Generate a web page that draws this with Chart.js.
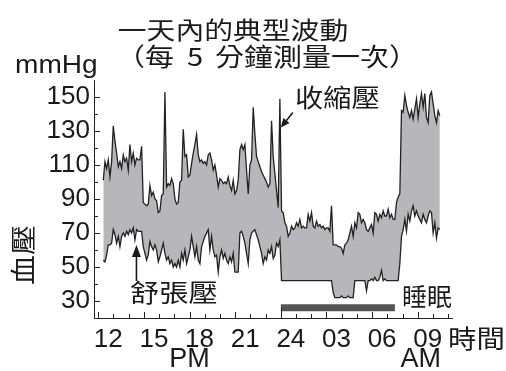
<!DOCTYPE html>
<html>
<head>
<meta charset="utf-8">
<script src="https://cdn.jsdelivr.net/npm/chart.js@4.4.1/dist/chart.umd.min.js"></script>
<style>
    html, body { margin: 0; padding: 0; background: #fff; }
    #wrap { width: 506px; height: 371px; }
</style>
</head>
<body>
<div id="wrap"><canvas id="bp" width="506" height="371"></canvas></div>
<script>
//readings, one every ~6.5 min starting 12:20
var START_HOUR = 12.33;
var STEP_MIN = 6.57;

var systolic = [
    101, 112, 108, 113, 103, 112, 133, 124, 117, 109,
    112, 108, 116, 112, 114, 107, 122, 112, 117, 110,
    114, 113, 113, 121, 88, 87, 86, 87, 98, 92,
    94, 90, 89, 82, 83, 92, 93, 153, 97, 99,
    98, 102, 99, 90, 87, 88, 100, 101, 131, 115,
    116, 103, 104, 111, 117, 122, 128, 116, 112, 113,
    111, 112, 110, 116, 117, 113, 107, 110, 104, 97,
    102, 101, 99, 100, 99, 103, 98, 95, 101, 93,
    95, 101, 119, 122, 119, 122, 107, 93, 110, 113,
    144, 128, 115, 112, 109, 106, 104, 102, 100, 97,
    99, 136, 115, 105, 95, 85, 149, 83, 82, 76,
    74, 68, 70, 74, 72, 73, 76, 74, 78, 73,
    74, 73, 73, 81, 77, 82, 74, 73, 77, 74,
    75, 73, 74, 72, 73, 73, 71, 86, 63, 63,
    63, 62, 62, 61, 58, 63, 64, 66, 70, 74,
    68, 76, 73, 82, 81, 76, 78, 76, 72, 71,
    73, 75, 70, 82, 81, 77, 81, 79, 83, 80,
    80, 84, 79, 81, 78, 78, 88, 91, 93, 142,
    141, 151, 145, 141, 138, 142, 137, 143, 149, 138,
    146, 152, 144, 152, 138, 135, 151, 153, 146, 139,
    135, 142, 139
];

var diastolic = [
    54, 53, 57, 63, 63, 64, 72, 69, 64, 68,
    62, 68, 70, 68, 71, 69, 72, 70, 73, 66,
    72, 71, 71, 71, 62, 58, 54, 57, 65, 62,
    60, 63, 60, 53, 56, 60, 64, 58, 54, 56,
    52, 54, 50, 52, 50, 54, 50, 58, 54, 60,
    52, 56, 60, 68, 62, 56, 62, 54, 52, 62,
    65, 68, 70, 72, 60, 68, 60, 56, 57, 47,
    56, 60, 55, 58, 54, 52, 56, 53, 58, 47,
    47, 47, 70, 71, 68, 64, 58, 52, 66, 70,
    71, 72, 69, 66, 62, 58, 52, 56, 54, 60,
    58, 62, 55, 57, 64, 62, 66, 42, 42, 42,
    42, 42, 42, 42, 42, 42, 42, 42, 42, 42,
    42, 42, 42, 42, 42, 42, 42, 42, 42, 42,
    42, 42, 42, 42, 42, 42, 42, 42, 35, 32,
    32, 32, 32, 33, 32, 32, 32, 33, 32, 32,
    32, 42, 42, 42, 42, 42, 42, 42, 36, 42,
    42, 43, 42, 44, 42, 42, 44, 48, 42, 43,
    42, 42, 42, 42, 42, 42, 42, 42, 52, 68,
    72, 78, 71, 81, 77, 83, 86, 80, 83, 80,
    78, 76, 81, 78, 76, 80, 83, 82, 70, 76,
    67, 73, 72
];

//sleep period (hours, 24 = midnight) and the level the bar sits at
var sleepHours = [24, 31.5];
var SLEEP_LEVEL = 26;

var hourTicks = [12, 13, 14, 15, 16, 17, 18, 19, 20, 21, 22, 23,
    24, 25, 26, 27, 28, 29, 30, 31, 32, 33, 34, 35];
var labelHours = [12, 15, 18, 21, 24, 27, 30, 33];
var hourLabels = ['12', '15', '18', '21', '24', '03', '06', '09'];

var yTickValues = [30, 40, 50, 60, 70, 80, 90, 100, 110, 120, 130, 140, 150];
var yLabels = [30, 50, 70, 90, 110, 130, 150];

var CJK = '"Noto Sans CJK TC", "Noto Sans CJK SC", sans-serif';
var LATIN = '"Liberation Sans", Arial, sans-serif';
var INK = '#1a1a1a';

function toPoints(values) {
    var pts = [];
    for (var i = 0; i < values.length; i++) {
        pts.push({ x: START_HOUR + i * STEP_MIN / 60, y: values[i] });
    }
    return pts;
}

//text with horizontal stretch, the source uses a wide face
function stretchText(ctx, txt, x, y, font, sx, align) {
    ctx.save();
    ctx.font = font;
    ctx.textBaseline = 'middle';
    ctx.textAlign = 'left';
    var w = ctx.measureText(txt).width * sx;
    var left = x;
    if (align === 'center') left = x - w / 2;
    if (align === 'right') left = x - w;
    ctx.translate(left, y);
    ctx.scale(sx, 1);
    ctx.fillText(txt, 0, 0);
    ctx.restore();
}

function arrow(ctx, x1, y1, x2, y2, head, half) {
    var ang = Math.atan2(y2 - y1, x2 - x1);
    var bx = x2 - Math.cos(ang) * head, by = y2 - Math.sin(ang) * head;
    ctx.beginPath();
    ctx.moveTo(x1, y1);
    ctx.lineTo(bx, by);
    ctx.stroke();
    ctx.beginPath();
    ctx.moveTo(x2, y2);
    ctx.lineTo(bx + Math.sin(ang) * half, by - Math.cos(ang) * half);
    ctx.lineTo(bx - Math.sin(ang) * half, by + Math.cos(ang) * half);
    ctx.closePath();
    ctx.fill();
}

//ticks point inwards in the source, chart.js draws them outside -> own plugin
var decorations = {
    id: 'decorations',
    afterDraw: function (chart) {
        var ctx = chart.ctx;
        var xs = chart.scales.x, ys = chart.scales.y, area = chart.chartArea;

        ctx.save();
        ctx.strokeStyle = '#222';
        ctx.lineWidth = 1;
        ctx.beginPath();
        hourTicks.forEach(function (h) {
            var px = Math.round(xs.getPixelForValue(h)) + 0.5;
            var len = (h % 3 === 0) ? 6 : 4;
            if (h === sleepHours[0]) {
                len = area.bottom - ys.getPixelForValue(SLEEP_LEVEL);
            }
            ctx.moveTo(px, area.bottom);
            ctx.lineTo(px, area.bottom - len);
        });
        yTickValues.forEach(function (v) {
            var py = Math.round(ys.getPixelForValue(v)) + 0.5;
            var len = yLabels.indexOf(v) >= 0 ? 6 : 4;
            ctx.moveTo(area.left, py);
            ctx.lineTo(area.left + len, py);
        });
        ctx.stroke();

        ctx.fillStyle = INK;
        stretchText(ctx, '一天內的典型波動', 233, 30, '24px ' + CJK, 1.2, 'center');
        stretchText(ctx, '（每', 116, 56, '25px ' + CJK, 1.16, 'left');
        stretchText(ctx, '5', 195, 56, '25px ' + CJK, 1.16, 'center');
        stretchText(ctx, '分鐘測量一次）', 215, 56, '25px ' + CJK, 1.16, 'left');

        ctx.save();
        ctx.font = '26px ' + LATIN;
        ctx.textBaseline = 'alphabetic';
        ctx.translate(15, 73);
        ctx.scale(1.08, 1);
        ctx.fillText('mmHg', 0, 0);
        ctx.restore();

        stretchText(ctx, 'PM', xs.getPixelForValue(18), 360, '27px ' + LATIN, 1, 'center');
        stretchText(ctx, 'AM', xs.getPixelForValue(33) + 3, 360, '27px ' + LATIN, 1, 'center');
        stretchText(ctx, '時間', 448, 338, '25px ' + CJK, 1.14, 'left');

        ctx.save();
        ctx.translate(23, 255);
        ctx.rotate(-Math.PI / 2);
        stretchText(ctx, '血壓', 0, 0, '26px ' + CJK, 1.15, 'center');
        ctx.restore();

        stretchText(ctx, '收縮壓', 295, 97, '25px ' + CJK, 1.13, 'left');
        stretchText(ctx, '舒張壓', 130, 292, '25px ' + CJK, 1.17, 'left');
        stretchText(ctx, '睡眠', 402, 296, '25px ' + CJK, 1.0, 'left');

        //arrows to the two curves
        ctx.strokeStyle = INK;
        ctx.lineWidth = 1.6;
        var tipX = xs.getPixelForValue(24.0), tipY = ys.getPixelForValue(132);
        arrow(ctx, tipX + 12, tipY - 15, tipX, tipY, 9, 4);
        var dX = xs.getPixelForValue(14.51), dY = ys.getPixelForValue(63);
        arrow(ctx, dX, 281, dX, dY, 12, 4.5);
        ctx.restore();
    }
};

var chart = new Chart(document.getElementById('bp').getContext('2d'), {
    type: 'line',
    plugins: [decorations],
    data: {
        datasets: [
            {
                label: '收縮壓',
                data: toPoints(systolic),
                borderColor: '#222',
                borderWidth: 1.3,
                backgroundColor: 'rgb(182,182,187)',
                fill: '+1',
                pointRadius: 0,
                tension: 0
            },
            {
                label: '舒張壓',
                data: toPoints(diastolic),
                borderColor: '#222',
                borderWidth: 1.3,
                fill: false,
                pointRadius: 0,
                tension: 0
            },
            {
                label: '睡眠',
                data: [{ x: sleepHours[0], y: SLEEP_LEVEL }, { x: sleepHours[1], y: SLEEP_LEVEL }],
                borderColor: '#555',
                borderWidth: 7,
                borderCapStyle: 'butt',
                fill: false,
                pointRadius: 0
            }
        ]
    },
    options: {
        responsive: false,
        animation: false,
        events: [],
        layout: { padding: { top: 80, right: 54, left: 0, bottom: 0 } },
        plugins: {
            legend: { display: false },
            tooltip: { enabled: false },
            filler: { drawTime: 'beforeDatasetsDraw' }
        },
        scales: {
            x: {
                type: 'linear',
                min: 11.72,
                max: 35.25,
                afterFit: function (scale) { scale.height = 53; },
                afterBuildTicks: function (scale) {
                    scale.ticks = hourTicks.map(function (h) { return { value: h }; });
                },
                grid: { display: false, drawTicks: false },
                border: { display: true, color: '#222', width: 1 },
                ticks: {
                    autoSkip: false,
                    maxRotation: 0,
                    padding: 6,
                    labelOffset: 10,
                    color: INK,
                    font: { family: LATIN, size: 26 },
                    callback: function (v) {
                        var i = labelHours.indexOf(v);
                        return i >= 0 ? hourLabels[i] : '';
                    }
                }
            },
            y: {
                min: 20,
                max: 160,
                afterFit: function (scale) { scale.width = 94; },
                afterBuildTicks: function (scale) {
                    scale.ticks = yTickValues.map(function (v) { return { value: v }; });
                },
                grid: { display: false, drawTicks: false },
                border: { display: true, color: '#222', width: 1 },
                ticks: {
                    padding: 4,
                    color: INK,
                    font: { family: LATIN, size: 26 },
                    callback: function (v) {
                        return yLabels.indexOf(v) >= 0 ? String(v) : '';
                    }
                }
            }
        }
    }
});
</script>
</body>
</html>
